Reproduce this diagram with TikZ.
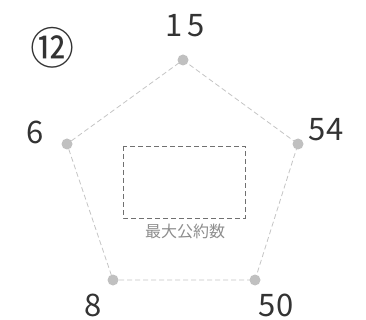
\documentclass[tikz,border=0pt]{standalone}
\usepackage{fontspec}
\setmainfont{Noto Sans CJK JP}
\usepackage{xcolor}
\usetikzlibrary{positioning}
\definecolor{dotgray}{HTML}{C0C0C0}
\definecolor{linegray}{HTML}{C4C4C4}
\definecolor{boxgray}{HTML}{707070}
\definecolor{numgray}{HTML}{333333}
\tikzset{
 numlabel/.style={text=numgray,font=\fontsize{31}{31}\selectfont\addfontfeature{Weight=Light}},
 edge/.style={dash pattern=on 5pt off 3pt,linegray,line width=0.8pt},
}
\begin{document}
\begin{tikzpicture}[x=1pt,y=-1pt]
 	\useasboundingbox (0,0) rectangle (366,320);
 	\coordinate (v15) at (183,60);
 	\coordinate (v54) at (298,144);
 	\coordinate (v50) at (255,280);
 	\coordinate (v8) at (113,280);
 	\coordinate (v6) at (67,144);
 	\draw[edge] (v15)--(v54)--(v50)--(v8)--(v6)--cycle;
 	\fill[dotgray] (v15) circle (5.5);
 	\fill[dotgray] (v54) circle (5.5);
 	\fill[dotgray] (v50) circle (5.5);
 	\fill[dotgray] (v8) circle (5.5);
 	\fill[dotgray] (v6) circle (5.5);
 	\node[numlabel] (n15) at (185,26) {1\,5};
 	\node[numlabel] (n54) at (326,130) {54};
 	\node[numlabel] (n50) at (276,305) {50};
 	\node[numlabel] (n8) at (93,305) {8};
 	\node[numlabel] (n6) at (35,132) {6};
 	\node[text=numgray,font=\fontsize{44}{44}\selectfont\addfontfeature{Weight=Light}] (no) at (52,48) {⑫};
 	\draw[dash pattern=on 5pt off 3pt,boxgray,line width=0.8pt] (123,146) rectangle (245,218);
 	\node[text=boxgray!80,font=\fontsize{16}{16}\selectfont] (gcd) at (185,231) {最大公約数};
\end{tikzpicture}
\end{document}
